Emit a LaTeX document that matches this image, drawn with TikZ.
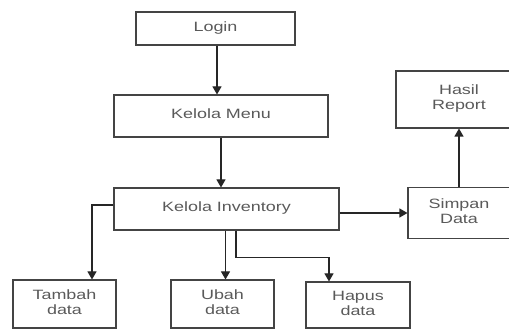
\documentclass[tikz,border=0pt]{standalone}
\usepackage{fontspec}
\setmainfont{Liberation Sans}
\usetikzlibrary{arrows.meta}
\definecolor{boxline}{HTML}{444444}
\definecolor{txt}{HTML}{5A5A5A}
\newcommand{\wtxt}[2][0pt]{\raisebox{#1}{\scalebox{1.33}[1]{\begin{tabular}{@{}c@{}}#2\end{tabular}}}}
\tikzset{
  flowbox/.style={draw=boxline, line width=1.1pt, rectangle, inner sep=0pt,
    text=txt, font=\fontsize{13.5}{15}\selectfont, align=center},
  flowarrow/.style={draw=black!85, line width=1.1pt,
    -{Triangle[width=9pt,length=8pt]}}
}
\begin{document}
\begin{tikzpicture}[x=1pt,y=-1pt]
\useasboundingbox (0,0) rectangle (509,331);
\clip (0,0) rectangle (509,331);
\fill[white] (0,0) rectangle (509,331);

% boxes
\node[flowbox, minimum width=159pt, minimum height=33pt] (login) at (215.5,28.5) {\wtxt{Login}};
\node[flowbox, minimum width=214pt, minimum height=42pt] (menu) at (221,116) {\wtxt[4pt]{Kelola Menu}};
\node[flowbox, minimum width=225pt, minimum height=42pt] (inv) at (226.5,209) {\wtxt[4pt]{Kelola Inventory}};
\node[flowbox, minimum width=126pt, minimum height=57pt] (hasil) at (459,99.5) {\wtxt[6pt]{Hasil\\Report}};
\node[flowbox, minimum width=102pt, minimum height=51pt] (simpan) at (459,213) {\wtxt[3pt]{Simpan\\Data}};
\node[flowbox, minimum width=103pt, minimum height=48pt] (tambah) at (64.5,304) {\wtxt{Tambah\\data}};
\node[flowbox, minimum width=103pt, minimum height=48pt] (ubah) at (222.5,304) {\wtxt[1pt]{Ubah\\data}};
\node[flowbox, minimum width=104pt, minimum height=46pt] (hapus) at (358,305) {\wtxt[-1pt]{Hapus\\data}};

% helper points on box edges
\coordinate (tambahIn) at ([xshift=27.5pt]tambah.north);
\coordinate (ubahIn) at ([xshift=3pt]ubah.north);
\coordinate (hapusIn) at ([xshift=-29pt]hapus.north);
\coordinate (invOut) at ([xshift=9.5pt]inv.south);

% connectors
\draw[flowarrow] ([xshift=1.5pt]login.south) -- ([xshift=1.5pt]login.south |- menu.north);
\draw[flowarrow] (menu.south) -- (menu.south |- inv.north);
\draw[flowarrow] ([yshift=4pt]inv.west) -| (tambahIn);
\draw[flowarrow] (inv.south -| ubahIn) -- (ubahIn);
\draw[flowarrow] (invOut) -- ++(0,27) -| (hapusIn);
\draw[flowarrow] (simpan.west -| inv.east) -- (simpan.west);
\draw[flowarrow] (simpan.north) -- (hasil.south);
\end{tikzpicture}
\end{document}
